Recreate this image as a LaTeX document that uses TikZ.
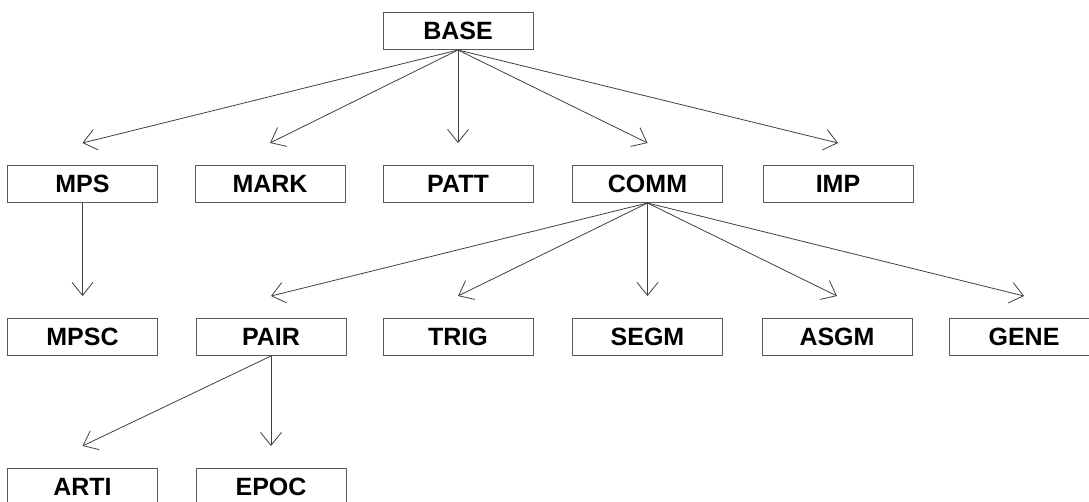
\documentclass[tikz,border=0pt]{standalone}
\usepackage{fontspec}
\setmainfont{Liberation Sans}
\usetikzlibrary{arrows.meta}
\begin{document}
\begin{tikzpicture}[x=1pt,y=-1pt,
  box/.style={draw=black!65,line width=1pt,minimum width=150pt,minimum height=37pt,inner sep=0pt,
    font=\fontsize{25}{25}\selectfont\bfseries},
  arr/.style={draw=black!75,line width=0.8pt,-{Straight Barb[length=13pt,width=21pt,line width=0.8pt]}}]
\useasboundingbox (0,0) rectangle (1089,501);
\node[box] (base) at (458,31) {BASE};
\node[box] (mps)  at (82.5,184) {MPS};
\node[box] (mark) at (270,184) {MARK};
\node[box] (patt) at (458,184) {PATT};
\node[box] (comm) at (647.5,184) {COMM};
\node[box] (imp)  at (838,184) {IMP};
\node[box] (mpsc) at (82.5,337) {MPSC};
\node[box] (pair) at (271,337) {PAIR};
\node[box] (trig) at (458,337) {TRIG};
\node[box] (segm) at (647.5,337) {SEGM};
\node[box] (asgm) at (837,337) {ASGM};
\node[box] (gene) at (1024,337) {GENE};
\node[box] (arti) at (82.5,487) {ARTI};
\node[box] (epoc) at (271,487) {EPOC};
\foreach \c in {mps,mark,patt,comm,imp}
  \draw[arr] (base.south) -- ([yshift=22pt]\c.north);
\draw[arr] (mps.south) -- ([yshift=22pt]mpsc.north);
\foreach \c in {pair,trig,segm,asgm,gene}
  \draw[arr] (comm.south) -- ([yshift=22pt]\c.north);
\foreach \c in {arti,epoc}
  \draw[arr] (pair.south) -- ([yshift=22pt]\c.north);
\end{tikzpicture}
\end{document}
